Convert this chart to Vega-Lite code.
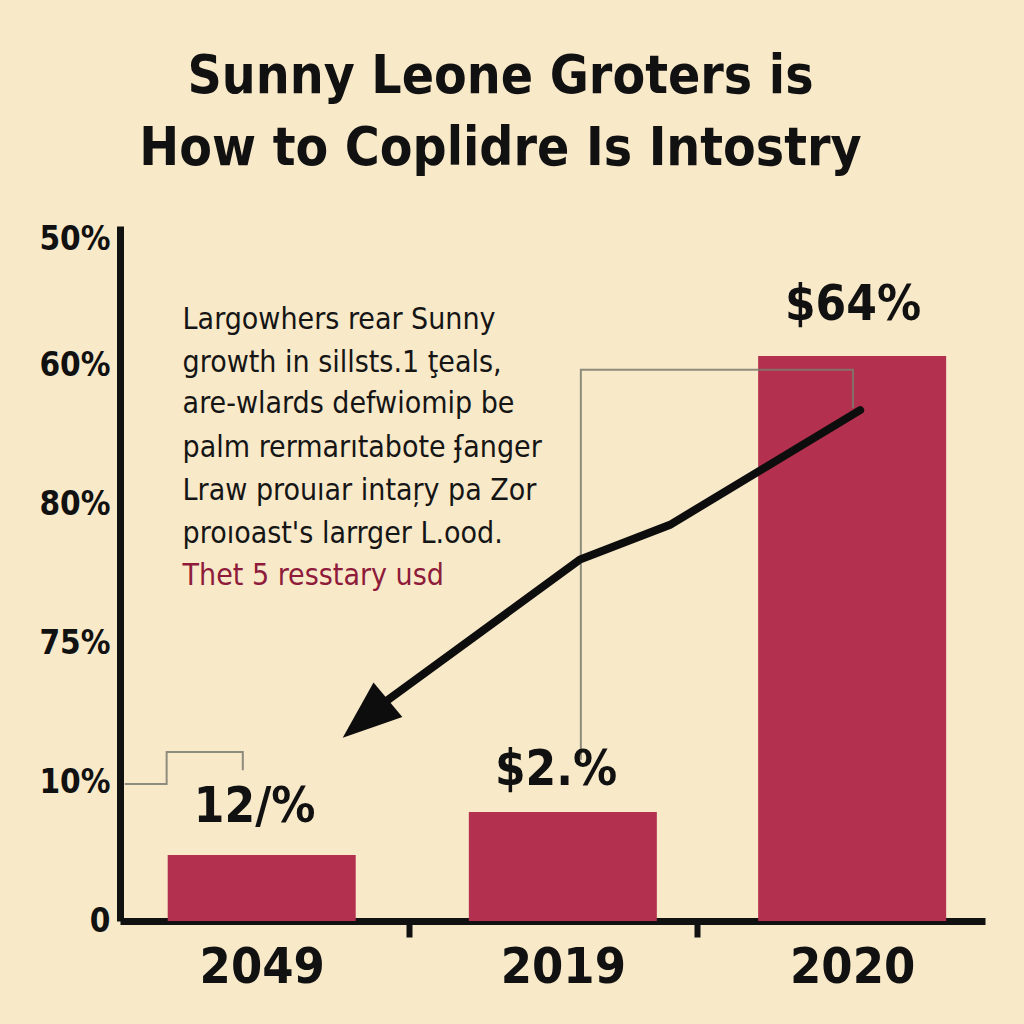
{
  "$schema": "https://vega.github.io/schema/vega-lite/v6.json",
  "width": 865,
  "height": 695,
  "autosize": {"type": "none"},
  "padding": {"left": 120, "top": 226, "right": 39, "bottom": 103},
  "background": "#f8e9c9",
  "config": {"view": {"stroke": null}, "font": "DejaVu Sans Condensed, sans-serif"},
  "title": {
    "text": ["Sunny Leone Groters is", "How to Coplidre Is Intostry"],
    "font": "DejaVu Sans Condensed, sans-serif",
    "fontSize": 53,
    "fontWeight": "bold",
    "lineHeight": 72,
    "color": "#111111",
    "anchor": "middle",
    "dx": -52,
    "offset": 48
  },
  "datasets": {
    "bars": [
      {"year": "2049", "pos": 1, "value": 9.5},
      {"year": "2019", "pos": 2.02, "value": 15.7},
      {"year": "2020", "pos": 3, "value": 81.3}
    ],
    "valueLabels": [
      {"label": "12/%", "pos": 0.976, "y": 14.2},
      {"label": "$2.%", "pos": 1.997, "y": 19.6},
      {"label": "$64%", "pos": 3.003, "y": 86.5}
    ],
    "connectors": [
      {"g": "a", "i": 0, "pos": 2.081, "y": 23.2},
      {"g": "a", "i": 1, "pos": 2.081, "y": 79.3},
      {"g": "a", "i": 2, "pos": 3.003, "y": 79.3},
      {"g": "a", "i": 3, "pos": 3.003, "y": 73.8},
      {"g": "b", "i": 0, "pos": 0.536, "y": 19.7},
      {"g": "b", "i": 1, "pos": 0.678, "y": 19.7},
      {"g": "b", "i": 2, "pos": 0.678, "y": 24.3},
      {"g": "b", "i": 3, "pos": 0.936, "y": 24.3},
      {"g": "b", "i": 4, "pos": 0.936, "y": 21.7}
    ],
    "arrow": [
      {"i": 0, "pos": 3.027, "y": 73.5},
      {"i": 1, "pos": 2.383, "y": 57.0},
      {"i": 2, "pos": 2.078, "y": 52.0},
      {"i": 3, "pos": 1.427, "y": 31.8}
    ],
    "arrowHead": [
      {"pos": 1.351, "y": 29.1}
    ],
    "note": [
      {"line": "Largowhers rear Sunny", "pos": 0.732, "y": 85.2, "tone": "body"},
      {"line": "growth in sillsts.1 ţeals,", "pos": 0.732, "y": 79.0, "tone": "body"},
      {"line": "are-wlards defwiomip be", "pos": 0.732, "y": 73.1, "tone": "body"},
      {"line": "palm rermarıtabote ʄanger", "pos": 0.732, "y": 66.8, "tone": "body"},
      {"line": "Lraw prouıar intaŗy pa Zor", "pos": 0.732, "y": 60.6, "tone": "body"},
      {"line": "proıoast's larrger L.ood.", "pos": 0.732, "y": 54.4, "tone": "body"},
      {"line": "Thet 5 resstary usd", "pos": 0.732, "y": 48.3, "tone": "accent"}
    ]
  },
  "layer": [
    {
      "data": {"name": "bars"},
      "mark": {"type": "bar", "orient": "vertical", "width": 188, "color": "#b3304f"},
      "encoding": {
        "x": {
          "field": "pos", "type": "quantitative",
          "scale": {"domain": [0.52, 3.45], "nice": false, "zero": false, "padding": 0},
          "axis": {
            "title": null,
            "values": [1, 1.5, 2.02, 2.475, 3],
            "labelExpr": "datum.value == 1 ? '2049' : datum.value == 2.02 ? '2019' : datum.value == 3 ? '2020' : ''",
            "grid": false,
            "domainColor": "#111111",
            "domainWidth": 7,
            "tickColor": {"condition": {"test": "datum.value == 1.5 || datum.value == 2.475", "value": "#111111"}, "value": "transparent"},
            "tickSize": 16,
            "tickWidth": 6,
            "labelFontSize": 50,
            "labelFontWeight": "bold",
            "labelColor": "#111111",
            "labelPadding": 5,
            "labelFlush": false,
            "labelOverlap": false
          }
        },
        "y": {
          "field": "value", "type": "quantitative",
          "scale": {"domain": [0, 100], "nice": false, "padding": 0},
          "axis": {
            "title": null,
            "values": [0, 20, 40, 60, 80, 98],
            "labelExpr": "datum.value == 0 ? '0' : datum.value == 20 ? '10%' : datum.value == 40 ? '75%' : datum.value == 60 ? '80%' : datum.value == 80 ? '60%' : '50%'",
            "grid": false,
            "ticks": false,
            "domainColor": "#111111",
            "domainWidth": 7,
            "labelFontSize": 33,
            "labelFontWeight": "bold",
            "labelColor": "#111111",
            "labelPadding": 10,
            "labelFlush": false,
            "labelOverlap": false
          }
        }
      }
    },
    {
      "data": {"name": "connectors"},
      "mark": {"type": "line", "color": "#7b7b6e", "strokeWidth": 2, "opacity": 0.85},
      "encoding": {
        "x": {"field": "pos", "type": "quantitative"},
        "y": {"field": "y", "type": "quantitative"},
        "detail": {"field": "g"},
        "order": {"field": "i"}
      }
    },
    {
      "data": {"name": "arrow"},
      "mark": {"type": "line", "color": "#0d0d0d", "strokeWidth": 8, "strokeCap": "round", "strokeJoin": "miter"},
      "encoding": {
        "x": {"field": "pos", "type": "quantitative"},
        "y": {"field": "y", "type": "quantitative"},
        "order": {"field": "i"}
      }
    },
    {
      "data": {"name": "arrowHead"},
      "mark": {"type": "point", "shape": "M0,-1L0.76,1L-0.76,1Z", "size": 3481, "angle": 230, "filled": true, "color": "#0d0d0d", "opacity": 1},
      "encoding": {
        "x": {"field": "pos", "type": "quantitative"},
        "y": {"field": "y", "type": "quantitative"}
      }
    },
    {
      "data": {"name": "valueLabels"},
      "mark": {"type": "text", "fontSize": 49, "fontWeight": "bold", "align": "center", "baseline": "alphabetic", "color": "#111111"},
      "encoding": {
        "x": {"field": "pos", "type": "quantitative"},
        "y": {"field": "y", "type": "quantitative"},
        "text": {"field": "label"}
      }
    },
    {
      "data": {"name": "note"},
      "mark": {"type": "text", "fontSize": 30, "align": "left", "baseline": "alphabetic"},
      "encoding": {
        "x": {"field": "pos", "type": "quantitative"},
        "y": {"field": "y", "type": "quantitative"},
        "text": {"field": "line"},
        "color": {"field": "tone", "type": "nominal", "scale": {"domain": ["body", "accent"], "range": ["#151515", "#8e1b3a"]}, "legend": null}
      }
    }
  ]
}
